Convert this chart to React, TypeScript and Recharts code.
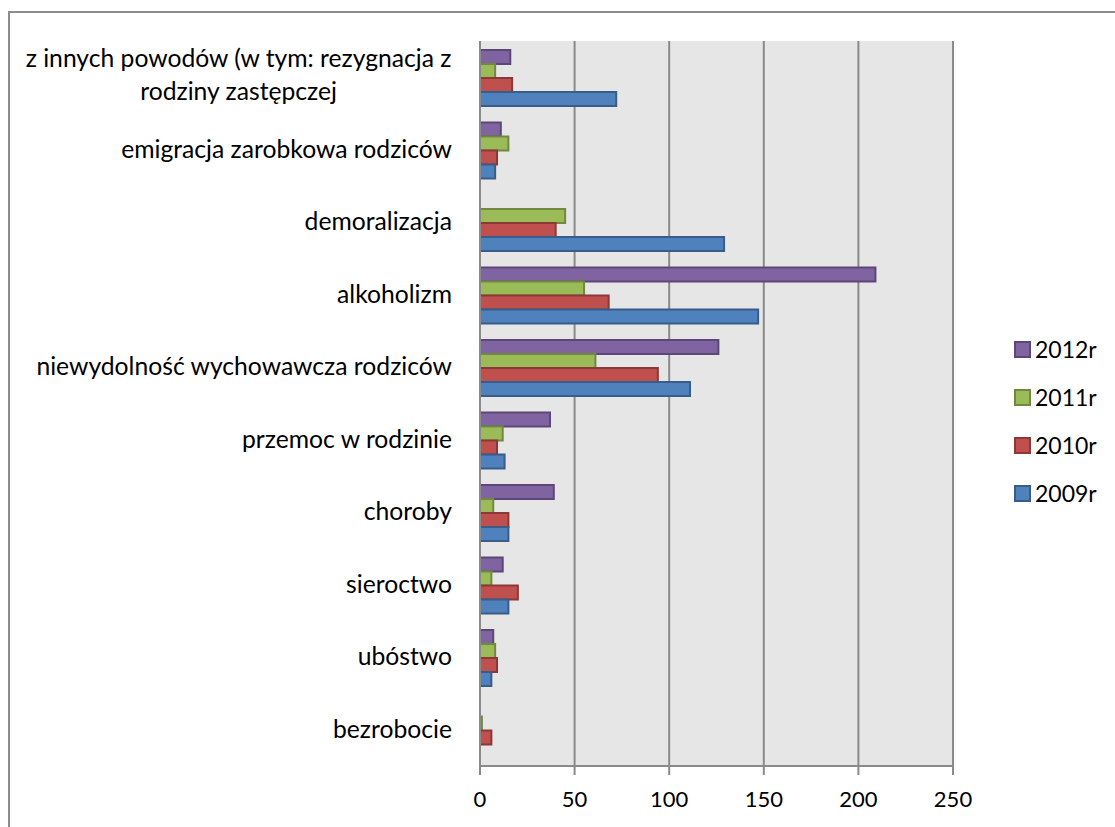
import React from "react";
import { BarChart, Bar, XAxis, YAxis, CartesianGrid } from "recharts";

const categories = [
  "z innych powodów (w tym: rezygnacja z\nrodziny zastępczej",
  "emigracja zarobkowa rodziców",
  "demoralizacja",
  "alkoholizm",
  "niewydolność wychowawcza rodziców",
  "przemoc w rodzinie",
  "choroby",
  "sieroctwo",
  "ubóstwo",
  "bezrobocie",
];
const v2012 = [16, 11, 0, 209, 126, 37, 39, 12, 7, 0];
const v2011 = [8, 15, 45, 55, 61, 12, 7, 6, 8, 1];
const v2010 = [17, 9, 40, 68, 94, 9, 15, 20, 9, 6];
const v2009 = [72, 8, 129, 147, 111, 13, 15, 15, 6, 0];
const xTicks = [0, 50, 100, 150, 200, 250];

const series = [
  { key: "y2012", label: "2012r", values: v2012, fill: "#8064A2", stroke: "#5C4776" },
  { key: "y2011", label: "2011r", values: v2011, fill: "#9BBB59", stroke: "#71893F" },
  { key: "y2010", label: "2010r", values: v2010, fill: "#C0504D", stroke: "#8C3836" },
  { key: "y2009", label: "2009r", values: v2009, fill: "#4F81BD", stroke: "#385D8A" },
];

const data = categories.map((name, i) => {
  const row: Record<string, any> = { name };
  series.forEach((s) => (row[s.key] = s.values[i]));
  return row;
});

const FONT = "Lato, 'Open Sans', sans-serif";
const CAT_SIZE = 24.7;
const TICK_SIZE = 22;
const LEG_SIZE = 23;
const GRID = "#8A8A8A";

let ctx: CanvasRenderingContext2D | null = null;
function measure(t: string): number {
  if (typeof document === "undefined") return t.length * 12;
  if (!ctx) ctx = document.createElement("canvas").getContext("2d");
  if (!ctx) return t.length * 12;
  ctx.font = `${CAT_SIZE}px Lato`;
  return ctx.measureText(t).width;
}

const CategoryTick = (props: any) => {
  const { x, y, payload } = props;
  const lines = String(payload.value).split("\n");
  const lh = 33;
  if (lines.length === 1) {
    return (
      <text x={x} y={y} dy="0.32em" textAnchor="end" fontFamily={FONT} fontSize={CAT_SIZE} fill="#000">
        {lines[0]}
      </text>
    );
  }
  const maxW = Math.max(...lines.map(measure));
  const cx = x - maxW / 2;
  return (
    <g>
      {lines.map((l, i) => (
        <text
          key={i}
          x={cx}
          y={y + (i - (lines.length - 1) / 2) * lh - 2}
          dy="0.32em"
          textAnchor="middle"
          fontFamily={FONT}
          fontSize={CAT_SIZE}
          fill="#000"
        >
          {l}
        </text>
      ))}
    </g>
  );
};

function LegendBox() {
  return (
    <div style={{ position: "absolute", left: 1014, top: 326, display: "flex", flexDirection: "column" }}>
      {series.map((s) => (
        <div key={s.key} style={{ height: 47.8, display: "flex", alignItems: "center" }}>
          <div
            style={{
              width: 13,
              height: 13,
              background: s.fill,
              border: `2px solid ${s.stroke}`,
              marginRight: 4,
            }}
          />
          <span style={{ fontFamily: FONT, fontSize: LEG_SIZE, color: "#000", lineHeight: 1 }}>{s.label}</span>
        </div>
      ))}
    </div>
  );
}

export default function App() {
  return (
    <div
      style={{
        position: "absolute",
        left: 0,
        top: 0,
        width: 1115,
        height: 827,
        overflow: "hidden",
        background: "#fff",
      }}
    >
      <div
        style={{
          position: "absolute",
          left: 8,
          top: 11,
          width: 1200,
          height: 900,
          border: "2px solid #8C8C8C",
        }}
      />
      <div style={{ position: "absolute", left: 0, top: 0 }}>
        <BarChart
          width={1115}
          height={827}
          data={data}
          layout="vertical"
          margin={{ top: 41, right: 162, bottom: 0, left: 10 }}
          barCategoryGap="12.5%"
          barGap={0}
        >
          <CartesianGrid horizontal={false} vertical={true} fill="#E6E6E6" stroke={GRID} strokeWidth={2} />
          <XAxis
            type="number"
            domain={[0, 250]}
            ticks={xTicks}
            interval={0}
            height={61}
            axisLine={{ stroke: GRID, strokeWidth: 2 }}
            tickLine={{ stroke: GRID, strokeWidth: 2 }}
            tickSize={9}
            tickMargin={16}
            tick={{ fontFamily: FONT, fontSize: TICK_SIZE, fill: "#000" }}
          />
          <YAxis
            type="category"
            dataKey="name"
            width={470}
            interval={0}
            axisLine={{ stroke: GRID, strokeWidth: 2 }}
            tickLine={false}
            tickSize={6}
            tickMargin={22}
            tick={<CategoryTick />}
          />
          {series.map((s) => (
            <Bar
              key={s.key}
              dataKey={s.key}
              name={s.label}
              fill={s.fill}
              stroke={s.stroke}
              strokeWidth={2}
              isAnimationActive={false}
            />
          ))}
        </BarChart>
      </div>
      <LegendBox />
    </div>
  );
}
